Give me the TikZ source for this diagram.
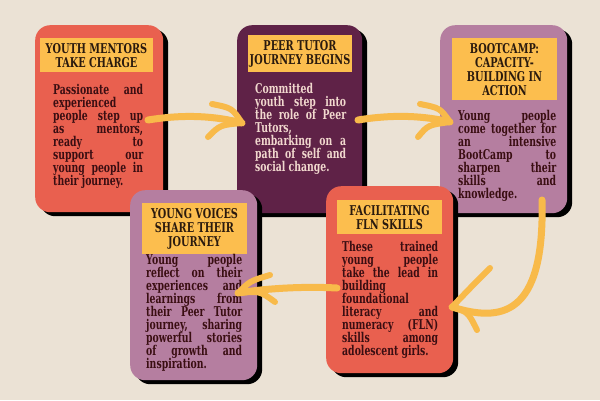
\documentclass[tikz,border=0pt]{standalone}
\usepackage{fontspec}
\usetikzlibrary{shadows}
\newfontfamily\bodyfont{DejaVu Serif}[FakeStretch=0.69]
\newfontfamily\headfont{DejaVu Serif}[FakeStretch=0.72]
\definecolor{paper}{HTML}{EBE2D5}
\definecolor{coral}{HTML}{E9604F}
\definecolor{plum}{HTML}{5F2247}
\definecolor{mauve}{HTML}{B57EA0}
\definecolor{gold}{HTML}{FCBE4E}
\definecolor{brushgold}{HTML}{F8BA4A}
\definecolor{ink}{HTML}{3A0E12}
\definecolor{headink}{HTML}{2A1A0E}
\definecolor{cream}{HTML}{F1D8CE}
\tolerance=10000
\hbadness=10000
\newcommand\tightlines{\lineskiplimit=-20pt\relax}
\tikzset{
  card/.style={anchor=north west, inner sep=0pt, rounded corners=15pt,
    drop shadow={shadow xshift=5pt, shadow yshift=-4pt, opacity=1, fill=black}},
  title/.style={anchor=north, fill=gold, text=headink, align=center,
    inner xsep=0pt, inner ysep=5pt,
    font=\headfont\bfseries\fontsize{13.5}{14}\selectfont\tightlines},
  body/.style={anchor=north west, inner sep=0pt, align=justify, text=ink,
    font=\bodyfont\bfseries\fontsize{13.5}{13}\selectfont\tightlines},
  shaft/.style={draw=brushgold, line width=7pt, line cap=round},
  wing/.style={draw=brushgold, line width=6pt, line cap=round}
}
\begin{document}
\begin{tikzpicture}[x=1pt,y=-1pt]

\fill[paper] (0,0) rectangle (600,400);

\node[card, fill=coral, minimum width=128pt, minimum height=187pt] (mentors) at (35,25) {};
\node[title, minimum width=113pt] (mentorstitle) at (96.5,38) {YOUTH MENTORS\\TAKE CHARGE};
\node[body, text width=90pt] (mentorstext) at (53,84) {Passionate and\linebreak experienced\linebreak people step up\linebreak as mentors,\linebreak ready to\linebreak support our\linebreak young people in\linebreak their journey.};

\node[card, fill=plum, minimum width=125pt, minimum height=188pt] (tutor) at (237,25) {};
\node[title, minimum width=104pt] (tutortitle) at (300,35) {PEER TUTOR\\JOURNEY BEGINS};
\node[body, text width=91pt, text=cream] (tutortext) at (255,83) {Committed\linebreak youth step into\linebreak the role of Peer\linebreak Tutors,\linebreak embarking on a\linebreak path of self and\linebreak social change.};

\node[card, fill=mauve, minimum width=127pt, minimum height=188pt] (bootcamp) at (440,25) {};
\node[title, minimum width=105pt] (bootcamptitle) at (504.5,38) {BOOTCAMP:\\CAPACITY-\\BUILDING IN\\ACTION};
\node[body, text width=98pt] (bootcamptext) at (458,110) {Young people\linebreak come together for\linebreak an intensive\linebreak BootCamp to\linebreak sharpen their\linebreak skills and\linebreak knowledge.};

\node[card, fill=mauve, minimum width=127pt, minimum height=190pt] (voices) at (130,190) {};
\node[title, minimum width=105pt] (voicestitle) at (194.5,203) {YOUNG VOICES\\SHARE THEIR\\JOURNEY};
\node[body, text width=96pt] (voicestext) at (146,254) {Young people\linebreak reflect on their\linebreak experiences and\linebreak learnings from\linebreak their Peer Tutor\linebreak journey, sharing\linebreak powerful stories\linebreak of growth and\linebreak inspiration.};

\node[card, fill=coral, minimum width=127pt, minimum height=187pt] (fln) at (326,186) {};
\node[title, minimum width=105pt] (flntitle) at (389.5,200) {FACILITATING\\FLN SKILLS};
\node[body, text width=96pt] (flntext) at (342,241) {These trained\linebreak young people\linebreak take the lead in\linebreak building\linebreak foundational\linebreak literacy and\linebreak numeracy (FLN)\linebreak skills among\linebreak adolescent girls.};

\coordinate (mentorsout) at (148,120);
\coordinate (tutorin) at (242,123);
\coordinate (tutorup) at (212,104);
\coordinate (tutordown) at (208,137);
\coordinate (tutorout) at (358,120);
\coordinate (bootcampin) at (450,122);
\coordinate (bootcampup) at (420,104);
\coordinate (bootcampdown) at (418,137);
\coordinate (bootcampout) at (542,200);
\coordinate (flnin) at (452,307);
\coordinate (flnup) at (490,268);
\coordinate (flndown) at (477,330);
\coordinate (flnout) at (337,288);
\coordinate (voicesin) at (238,293);
\coordinate (voicesup) at (270,275);
\coordinate (voicesdown) at (275,302);

\draw[shaft] (mentorsout) .. controls (185,114) and (215,116) .. (tutorin);
\draw[wing] (tutorup) .. controls (232,108) .. (tutorin);
\draw[wing] (tutorin) .. controls (220,125) .. (tutordown);

\draw[shaft] (tutorout) .. controls (395,114) and (425,116) .. (bootcampin);
\draw[wing] (bootcampup) .. controls (440,108) .. (bootcampin);
\draw[wing] (bootcampin) .. controls (428,125) .. (bootcampdown);

\draw[shaft] (bootcampout) .. controls (545,318) and (500,322) .. (flnin);
\draw[wing] (flnup) .. controls (475,283) .. (flnin);
\draw[wing] (flnin) .. controls (468,312) .. (flndown);

\draw[shaft] (flnout) .. controls (300,286) and (262,289) .. (voicesin);
\draw[wing] (voicesup) .. controls (250,281) .. (voicesin);
\draw[wing] (voicesin) .. controls (260,291) .. (voicesdown);

\end{tikzpicture}
\end{document}
